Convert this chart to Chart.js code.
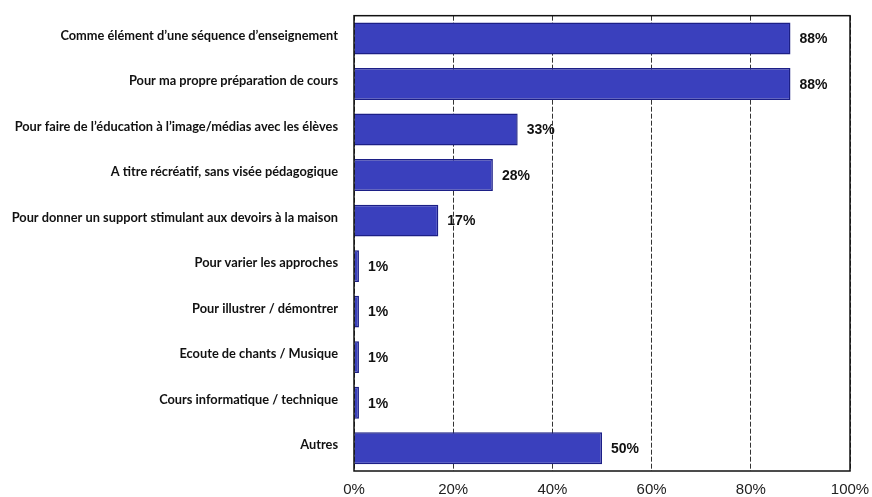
<!DOCTYPE html>
<html lang="fr">
<head>
  <meta charset="UTF-8" />
  <title>Usages</title>
  <script src="https://cdn.jsdelivr.net/npm/chart.js"></script>
  <style>
    html, body { margin: 0; padding: 0; background: #fff; }
    #wrap { width: 872px; height: 497px; }
  </style>
</head>
<body>
  <div id="wrap"><canvas id="chart" width="872" height="497"></canvas></div>

  <script>
    const categories = [
      'Comme élément d\u2019une séquence d\u2019enseignement',
      'Pour ma propre préparation de cours',
      'Pour faire de l\u2019éducation à l\u2019image/médias avec les élèves',
      'A titre récréatif, sans visée pédagogique',
      'Pour donner un support stimulant aux devoirs à la maison',
      'Pour varier les approches',
      'Pour illustrer / démontrer',
      'Ecoute de chants / Musique',
      'Cours informatique / technique',
      'Autres'
    ];
    const values = [88, 88, 33, 28, 17, 1, 1, 1, 1, 50];
    const xTicks = [0, 20, 40, 60, 80, 100];

    // value labels at the end of each bar + frame round the plot
    const barLabels = {
      id: 'barLabels',
      afterDatasetsDraw(chart) {
        const ctx = chart.ctx;
        const meta = chart.getDatasetMeta(0);
        ctx.save();
        ctx.font = 'bold 14px "Liberation Sans", Arial, sans-serif';
        ctx.fillStyle = '#111';
        ctx.textBaseline = 'middle';
        meta.data.forEach((bar, i) => {
          ctx.fillText(values[i] + '%', bar.x + 9, bar.y + 1);
        });
        const a = chart.chartArea;
        ctx.strokeStyle = '#111';
        ctx.lineWidth = 1.5;
        ctx.strokeRect(a.left, a.top, a.right - a.left, a.bottom - a.top);
        ctx.restore();
      }
    };

    new Chart(document.getElementById('chart'), {
      type: 'bar',
      data: {
        labels: categories,
        datasets: [{
          data: values,
          backgroundColor: '#3a40bd',
          borderColor: '#1c1f86',
          borderWidth: 1.5,
          barPercentage: 0.7,
          categoryPercentage: 1
        }]
      },
      options: {
        indexAxis: 'y',
        responsive: false,
        animation: false,
        layout: { padding: { left: 0, top: 8, right: 22, bottom: 0 } },
        plugins: { legend: { display: false }, tooltip: { enabled: false } },
        scales: {
          x: {
            min: 0,
            max: 100,
            afterBuildTicks: s => { s.ticks = xTicks.map(v => ({ value: v })); },
            afterFit: s => { s.height = 26; s.paddingRight = 0; s.paddingLeft = 0; },
            grid: { color: '#333', lineWidth: 1, drawTicks: false },
            border: { display: false, dash: [5, 2] },
            ticks: {
              padding: 10,
              color: '#222',
              font: { family: '"Liberation Sans", Arial, sans-serif', size: 15 },
              callback: v => v + '%'
            }
          },
          y: {
            afterFit: s => { s.width = 354; },
            grid: { display: false },
            border: { display: false },
            ticks: {
              padding: 8,
              labelOffset: -3,
              color: '#111',
              font: { family: 'Lato, sans-serif', size: 12.8, weight: 'bold' }
            }
          }
        }
      },
      plugins: [barLabels]
    });
  </script>
</body>
</html>
